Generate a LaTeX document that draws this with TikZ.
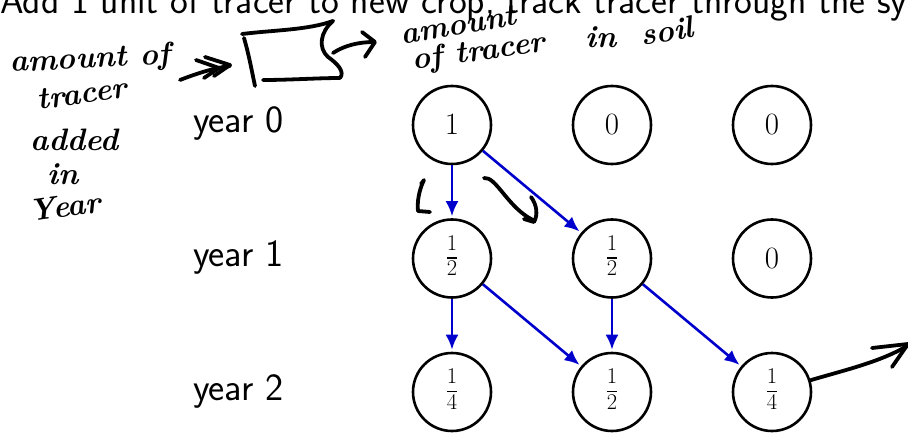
\RequirePackage{fix-cm}
\documentclass[tikz,border=0pt]{standalone}
\usetikzlibrary{arrows.meta}
\definecolor{arrowblue}{RGB}{0,0,204}
\newcommand{\myfrac}[2]{\begingroup\fontsize{22.5}{24}\selectfont\setlength{\arrayrulewidth}{1.4pt}\renewcommand{\arraystretch}{0.82}\begin{tabular}{@{}c@{}}#1\\[1pt]\hline\rule{0pt}{17pt}#2\end{tabular}\endgroup}
\begin{document}
\begin{tikzpicture}[x=1pt,y=-1pt,
  state/.style={circle,draw,line width=2.6pt,minimum size=78pt,inner sep=0pt,font=\fontsize{31}{38}\selectfont},
  flow/.style={draw=arrowblue,line width=2.6pt,-{Latex[length=15pt,width=13pt]},shorten >=2pt},
  sanslbl/.style={anchor=base west,inner sep=0pt,font=\fontsize{38.5}{44}\selectfont\sffamily},
  titlelbl/.style={anchor=base west,inner sep=0pt,font=\fontsize{37.8}{42}\selectfont\sffamily},
  ink/.style={line width=3.8pt,line cap=round,line join=round},
  hand/.style={anchor=base west,inner sep=0pt,font=\fontsize{31}{34}\selectfont\bfseries\itshape}
]
\useasboundingbox (0,0) rectangle (908,433);

% title (cut off at top and right)
\node[titlelbl] (title) at (0,13.5) {Add 1 unit of tracer to new crop; track tracer through the system};

% year labels
\node[sanslbl] (y0) at (193,133) {year 0};
\node[sanslbl] (y1) at (193,266.5) {year 1};
\node[sanslbl] (y2) at (193,400) {year 2};

% states
\node[state] (c00) at (452,125) {$1$};
\node[state] (c01) at (612,125) {$0$};
\node[state] (c02) at (772,125) {$0$};
\node[state] (c10) at (452,258.5) {\myfrac{1}{2}};
\node[state] (c11) at (612,258.5) {\myfrac{1}{2}};
\node[state] (c12) at (772,258.5) {$0$};
\node[state] (c20) at (452,392) {\myfrac{1}{4}};
\node[state] (c21) at (612,392) {\myfrac{1}{2}};
\node[state] (c22) at (772,392) {\myfrac{1}{4}};

% flows
\draw[flow] (c00) -- (c10);
\draw[flow] (c00) -- (c11);
\draw[flow] (c10) -- (c20);
\draw[flow] (c10) -- (c21);
\draw[flow] (c11) -- (c21);
\draw[flow] (c11) -- (c22);

% handwritten annotations: left
\node[hand,rotate=3] (hA) at (10,72) {amount of};
\node[hand,rotate=8] (hB) at (38,110) {tracer};
\node[hand] (hC) at (30,150) {added};
\node[hand] (hD) at (47,185) {in};
\node[hand,rotate=8] (hE) at (30,222) {Year};

% arrow into box
\draw[ink] (180,80) .. controls (198,73) and (214,68) .. (230,66);
\draw[ink] (205,57) -- (230,65) -- (214,76);
\draw[ink] (196,60) -- (219,68) -- (204,78);

% box
\draw[ink] (242,34) .. controls (275,30) and (308,30) .. (333,21);
\draw[ink] (244,38) .. controls (249,55) and (252,72) .. (255,86);
\draw[ink] (263,80) .. controls (290,80) and (318,78) .. (340,78);
\draw[ink] (333,21) .. controls (320,32) and (318,48) .. (328,57) .. controls (338,64) and (345,72) .. (340,78);

% arrow out of box
\draw[ink] (333,53) .. controls (345,45) and (360,42) .. (374,42);
\draw[ink] (362,32) -- (375,42) -- (365,57);

% handwritten annotations: right
\node[hand,rotate=10] (hF) at (402,45) {amount};
\node[hand,rotate=8] (hG) at (413,70) {of tracer};
\node[hand] (hH) at (585,48) {in};
\node[hand,rotate=10] (hI) at (642,46) {soil};

% mark near vertical arrow
\draw[ink] (421,184) -- (424,180) .. controls (419,190) and (417,202) .. (418,211) -- (430,212);

% curved arrow
\draw[ink] (484,178) .. controls (496,176) and (508,208) .. (533,220);
\draw[ink] (531,197) .. controls (537,205) and (538,215) .. (534,222) -- (524,219);

% outgoing arrow from last node
\draw[ink] (c22.17) .. controls (845,370) and (880,362) .. (907,346);
\draw[ink] (872,348) -- (908,344) -- (892,367);
\end{tikzpicture}
\end{document}
